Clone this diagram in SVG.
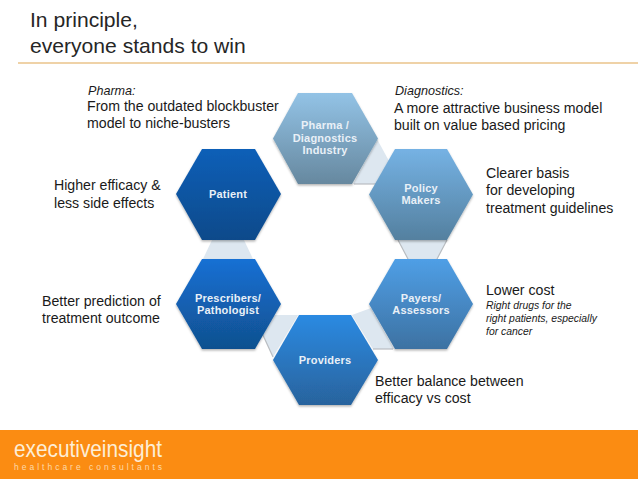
<svg xmlns="http://www.w3.org/2000/svg" width="638" height="479" viewBox="0 0 638 479">
<style>
text{font-family:"Liberation Sans",Arial,sans-serif;fill:#1a1a1a}
.t{font-size:21.1px;fill:#262626}
.b{font-size:14.15px}
.i{font-size:12.6px;font-style:italic}
.s{font-size:10.4px;font-style:italic}
.n{font-size:11px;font-weight:bold;fill:#e9f0f7;text-anchor:middle;letter-spacing:.2px}
.c{fill:#dde7f0}
.e{fill:none;stroke:#b9bdc1;stroke-width:1.2}
.hex{filter:url(#sh)}
</style>
<defs>
<filter id="sh" x="-10%" y="-10%" width="120%" height="125%"><feDropShadow dx="0" dy="1.5" stdDeviation="1.2" flood-color="#000" flood-opacity=".3"/></filter>
<linearGradient id="g1" x1="0" y1="0" x2="0" y2="1"><stop offset="0" stop-color="#93c3e6"/><stop offset="1" stop-color="#66889f"/></linearGradient>
<linearGradient id="g2" x1="0" y1="0" x2="0" y2="1"><stop offset="0" stop-color="#75b2e4"/><stop offset="1" stop-color="#54809f"/></linearGradient>
<linearGradient id="g3" x1="0" y1="0" x2="0" y2="1"><stop offset="0" stop-color="#4f9fe6"/><stop offset="1" stop-color="#3d72a2"/></linearGradient>
<linearGradient id="g4" x1="0" y1="0" x2="0" y2="1"><stop offset="0" stop-color="#2c8ae2"/><stop offset="1" stop-color="#28639d"/></linearGradient>
<linearGradient id="g5" x1="0" y1="0" x2="0" y2="1"><stop offset="0" stop-color="#1670d4"/><stop offset="1" stop-color="#10508f"/></linearGradient>
<linearGradient id="g6" x1="0" y1="0" x2="0" y2="1"><stop offset="0" stop-color="#0f5fb8"/><stop offset="1" stop-color="#0d4a8a"/></linearGradient>
</defs>
<rect width="638" height="479" fill="#fff"/>
<g id="title">
<text class="t" x="30" y="27">In principle,</text>
<text class="t" x="30" y="53">everyone stands to win</text>
<rect x="18" y="62.5" width="620" height="1" fill="#e0a550"/>
</g>
<g id="connectors">
<path class="c" d="M377 139L389 161L377 184L353 184Z"/><path class="e" d="M354 184H377"/>
<path class="c" d="M398 240H447L437 259H408Z"/><path class="e" d="M398 240L408 259M447 240L437 259"/>
<path class="c" d="M212 240H244L253 259H203Z"/>
<path class="c" d="M262 333L272 315H298L273 357Z"/><path class="e" d="M262 333L273 357"/>
<path class="c" d="M371 308L352 315L373 349H394Z"/><path class="e" d="M373 349H393"/>
</g>
<g id="pharma"><polygon class="hex" points="298,93 352,93 378,138.500 352,184 298,184 273,138.500" fill="url(#g1)"/>
<text class="n" x="325" y="129">Pharma /</text><text class="n" x="325" y="142">Diagnostics</text><text class="n" x="325" y="154">Industry</text></g>
<g id="policy"><polygon class="hex" points="395,149 447,149 473,194.500 447,240 395,240 369,194.500" fill="url(#g2)"/>
<text class="n" x="421" y="192">Policy</text><text class="n" x="421" y="204">Makers</text></g>
<g id="payers"><polygon class="hex" points="395,259 447,259 473,304 447,349 395,349 369,304" fill="url(#g3)"/>
<text class="n" x="421" y="302">Payers/</text><text class="n" x="421" y="314">Assessors</text></g>
<g id="providers"><polygon class="hex" points="299,315 351,315 378,360 351,405 299,405 273,360" fill="url(#g4)"/>
<text class="n" x="325" y="364">Providers</text></g>
<g id="prescribers"><polygon class="hex" points="202,259 255,259 281,304 255,349 202,349 176,304" fill="url(#g5)"/>
<text class="n" x="228" y="302">Prescribers/</text><text class="n" x="228" y="314">Pathologist</text></g>
<g id="patient"><polygon class="hex" points="202,149 255,149 281,194 255,240 202,240 176,194" fill="url(#g6)"/>
<text class="n" x="228" y="198">Patient</text></g>
<g id="labels">
<text class="i" x="88" y="95">Pharma:</text>
<text class="b" x="87" y="111">From the outdated blockbuster</text>
<text class="b" x="87" y="128">model to niche-busters</text>
<text class="i" x="395" y="95">Diagnostics:</text>
<text class="b" x="394" y="113">A more attractive business model</text>
<text class="b" x="394" y="130">built on value based pricing</text>
<text class="b" x="486" y="178">Clearer basis</text>
<text class="b" x="486" y="195">for developing</text>
<text class="b" x="486" y="213">treatment guidelines</text>
<text class="b" x="54" y="190">Higher efficacy &amp;</text>
<text class="b" x="54" y="208">less side effects</text>
<text class="b" x="42" y="306">Better prediction of</text>
<text class="b" x="42" y="323">treatment outcome</text>
<text class="b" x="486" y="295">Lower cost</text>
<text class="s" x="486" y="309">Right drugs for the</text>
<text class="s" x="486" y="322">right patients, especially</text>
<text class="s" x="486" y="335">for cancer</text>
<text class="b" x="375" y="386">Better balance between</text>
<text class="b" x="375" y="403">efficacy vs cost</text>
</g>
<g id="footer">
<rect x="0" y="430" width="638" height="49" fill="#fb8c12"/>
<text x="14" y="457" style="font-size:24px;fill:#fdeed6" textLength="148" lengthAdjust="spacingAndGlyphs">executiveinsight</text>
<text x="14" y="470" style="font-size:8.500px;fill:#fdd9a8" textLength="148">healthcare consultants</text>
</g>
</svg>
